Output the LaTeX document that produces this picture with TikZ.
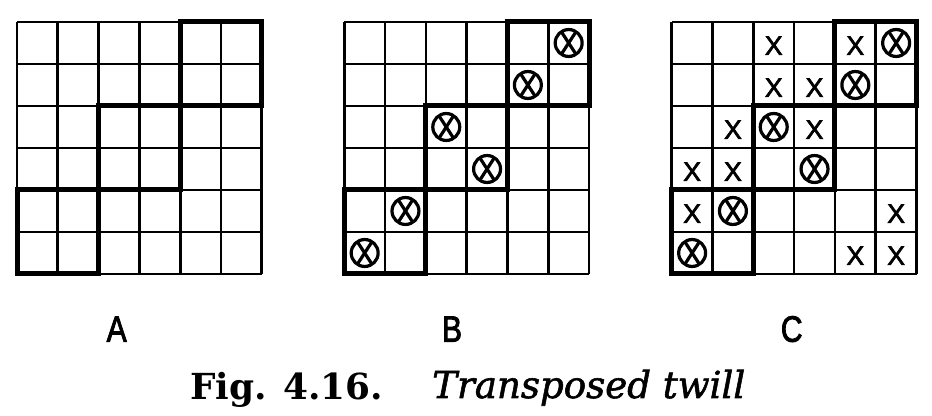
\documentclass[tikz,border=0pt]{standalone}
\usepackage{fontspec}
\newfontfamily\labfont[FakeBold=2.5]{Liberation Sans}
\newfontfamily\capfont{DejaVu Serif}
\newfontfamily\capitfont[FakeBold=1.5]{DejaVu Serif Italic}
\begin{document}
\begin{tikzpicture}[x=0.75pt,y=-0.75pt,
  gridline/.style={line width=2pt},
  block/.style={line width=3.75pt, line join=miter},
  wx/.style={circle, draw, line width=2.4pt, minimum size=20.2pt, inner sep=0pt,
    path picture={
      \draw[line width=2.4pt] ([shift={(57:12pt)}]path picture bounding box.center) -- ([shift={(237:12pt)}]path picture bounding box.center);
      \draw[line width=2.4pt] ([shift={(123:12pt)}]path picture bounding box.center) -- ([shift={(303:12pt)}]path picture bounding box.center);
    }},
  xm/.style={inner sep=0pt, font=\labfont\fontsize{20pt}{21pt}\selectfont, yshift=-2pt},
  lab/.style={anchor=base, inner sep=0pt}
]
\useasboundingbox (0,0) rectangle (932,416);

% ---------- grids ----------
\foreach \gx/\gn in {12.75pt/A, 258.2pt/B, 503.8pt/C}{
  \begin{scope}[xshift=\gx, yshift=-16.5pt, x=30.6pt, y=-31.5pt]
    \foreach \i in {0,...,6}{
      \draw[gridline] (\i,0) -- (\i,6);
      \draw[gridline] (0,\i) -- (6,\i);
    }
    \draw[block] (4,0) rectangle (6,2);
    \draw[block] (2,2) rectangle (4,4);
    \draw[block] (0,4) rectangle (2,6);
  \end{scope}
}

% ---------- interlacing marks in B and C ----------
\foreach \gx/\gn in {258.2pt/B, 503.8pt/C}{
  \begin{scope}[xshift=\gx, yshift=-16.5pt, x=30.6pt, y=-31.5pt]
    \foreach \c/\r in {6/1,5/2,3/3,4/4,2/5,1/6}{
      \node[wx] (\gn o\r) at (\c-0.5,\r-0.5) {};
    }
  \end{scope}
}

% ---------- X marks in C ----------
\begin{scope}[xshift=503.8pt, yshift=-16.5pt, x=30.6pt, y=-31.5pt]
  \foreach \c/\r in {3/1,5/1,3/2,4/2,2/3,4/3,1/4,2/4,1/5,6/5,5/6,6/6}{
    \node[xm] (Cx\c\r) at (\c-0.5,\r-0.5) {X};
  }
\end{scope}

% ---------- labels ----------
\node[lab] (labA) at (116.7,341.7) {\scalebox{0.82}[1]{\labfont\fontsize{27.5pt}{30pt}\selectfont A}};
\node[lab] (labB) at (452,341.7) {\scalebox{0.82}[1]{\labfont\fontsize{27.5pt}{30pt}\selectfont B}};
\node[lab] (labC) at (791.7,341.7) {\scalebox{0.82}[1]{\labfont\fontsize{27.5pt}{30pt}\selectfont C}};

% ---------- caption ----------
\node[anchor=base west, inner sep=0pt] (fig) at (190,399.3) {\resizebox{144.75pt}{!}{\capfont\bfseries Fig. 4.16.}};
\node[anchor=base west, inner sep=0pt] (title) at (432,398) {\resizebox{234.75pt}{!}{\capitfont Transposed twill}};
\end{tikzpicture}
\end{document}
